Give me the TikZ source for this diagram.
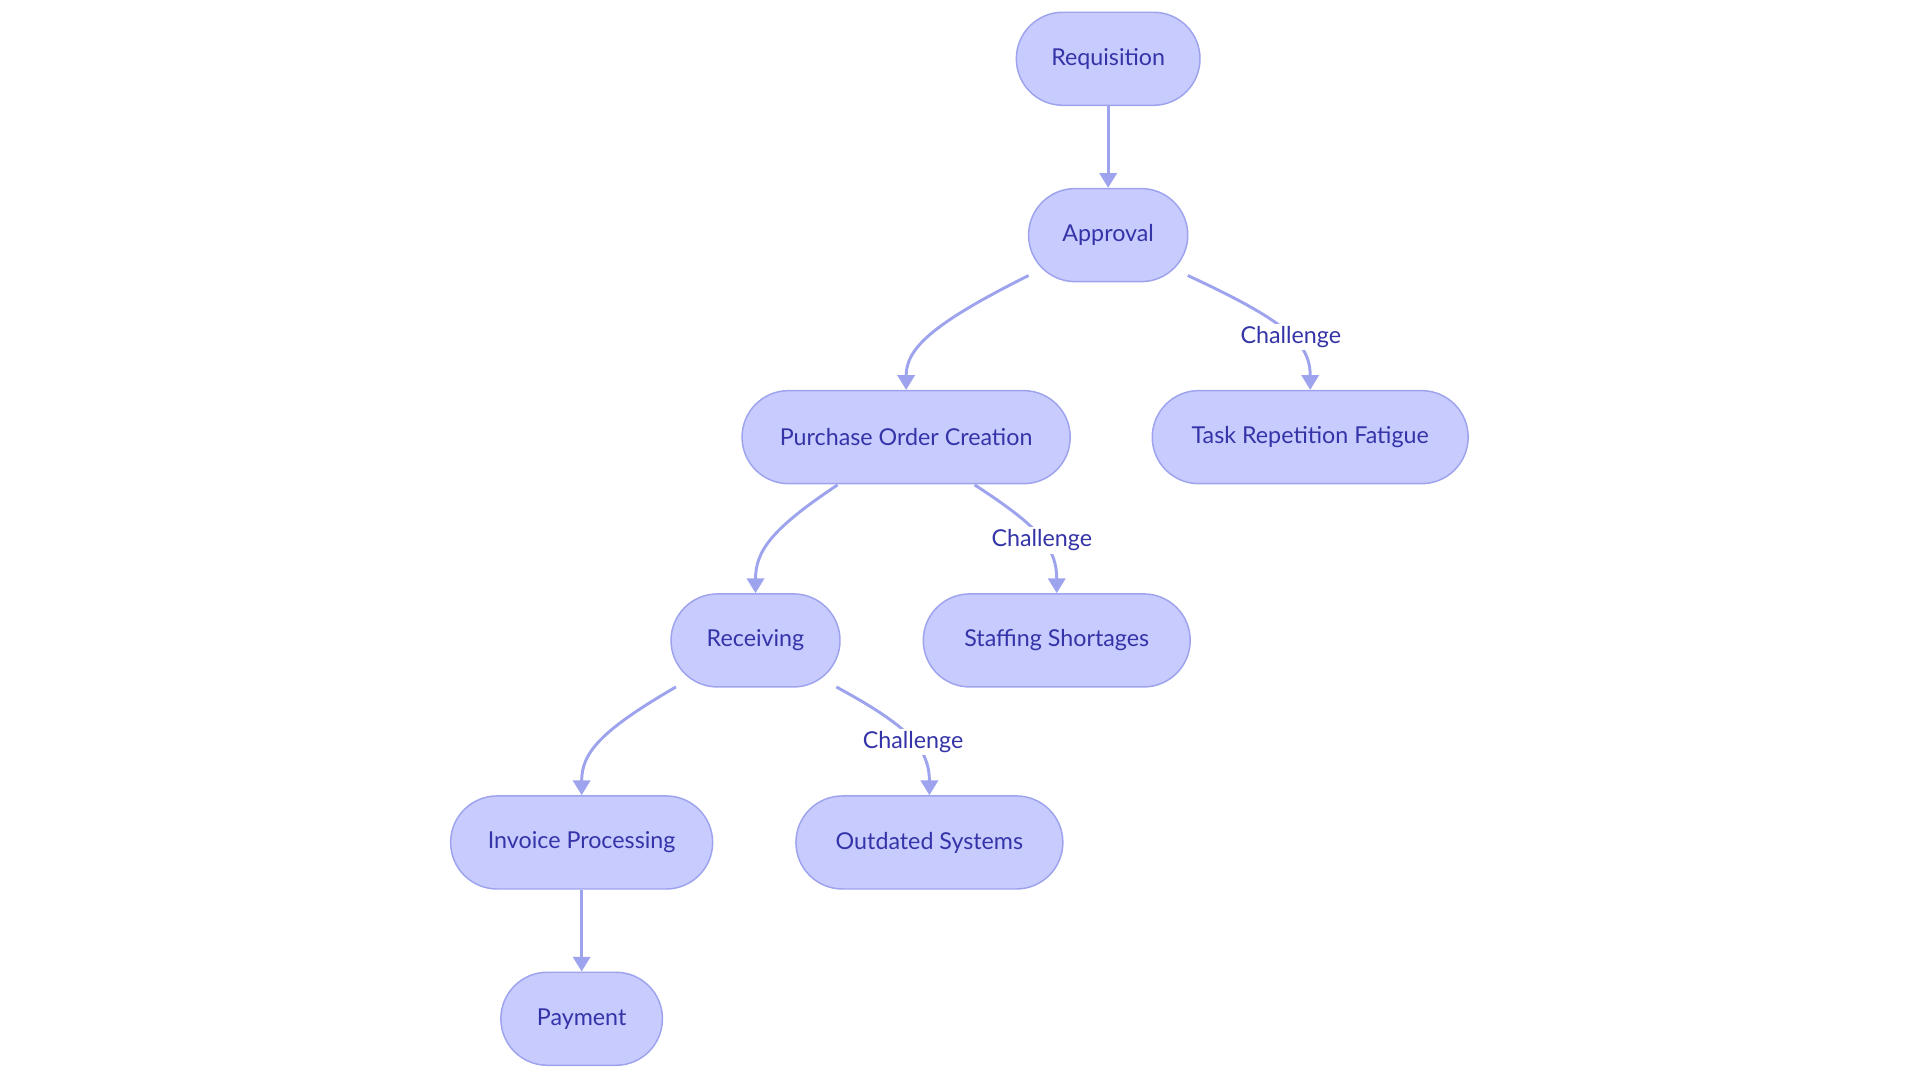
\documentclass[tikz,border=0pt]{standalone}
\usepackage{fontspec}
\setmainfont{Lato}
\usetikzlibrary{arrows.meta}
\definecolor{nfill}{HTML}{C8CBFE}
\definecolor{nline}{HTML}{9EA3EE}
\definecolor{ntext}{HTML}{3434A8}
\begin{document}
\begin{tikzpicture}[x=0.5pt,y=-0.5pt,
 box/.style={draw=nline,fill=nfill,rounded corners=19pt,minimum height=38pt,text=ntext,font=\fontsize{9.5}{11}\selectfont,line width=0.6pt,inner sep=0pt},
 lab/.style={fill=white,text=ntext,font=\fontsize{9.5}{11}\selectfont,inner sep=1pt},
 e/.style={draw=nline,line width=1.2pt,-{Triangle[length=6pt,width=7pt]}}]
\useasboundingbox (0,0) rectangle (1568,883);
\node[box,minimum width=75pt] (req) at (905,48) {Requisition};
\node[box,minimum width=65pt] (app) at (905,192) {Approval};
\node[box,minimum width=134pt] (po) at (740,357) {Purchase Order Creation};
\node[box,minimum width=129pt] (task) at (1070,357) {Task Repetition Fatigue};
\node[box,minimum width=69pt] (rec) at (617,523) {Receiving};
\node[box,minimum width=109pt] (staff) at (863,523) {Staffing Shortages};
\node[box,minimum width=107pt] (inv) at (475,688) {Invoice Processing};
\node[box,minimum width=109pt] (out) at (759,688) {Outdated Systems};
\node[box,minimum width=66pt] (pay) at (475,832) {Payment};
\coordinate (a1) at (840,225); \coordinate (a2) at (970,225);
\coordinate (p1) at (684,396); \coordinate (p2) at (796,396);
\coordinate (r1) at (552,561); \coordinate (r2) at (683,561);
\draw[e] (req) -- (app);
\draw[e] (a1) .. controls (760,265) and (740,285) .. (po.north);
\draw[e] (a2) .. controls (1050,262) and (1070,280) .. (task.north) node[lab,pos=0.55] {Challenge};
\draw[e] (p1) .. controls (630,432) and (617,450) .. (rec.north);
\draw[e] (p2) .. controls (845,428) and (863,445) .. (staff.north) node[lab,pos=0.55] {Challenge};
\draw[e] (r1) .. controls (490,597) and (475,615) .. (inv.north);
\draw[e] (r2) .. controls (740,592) and (759,610) .. (out.north) node[lab,pos=0.55] {Challenge};
\draw[e] (inv) -- (pay);
\end{tikzpicture}
\end{document}
